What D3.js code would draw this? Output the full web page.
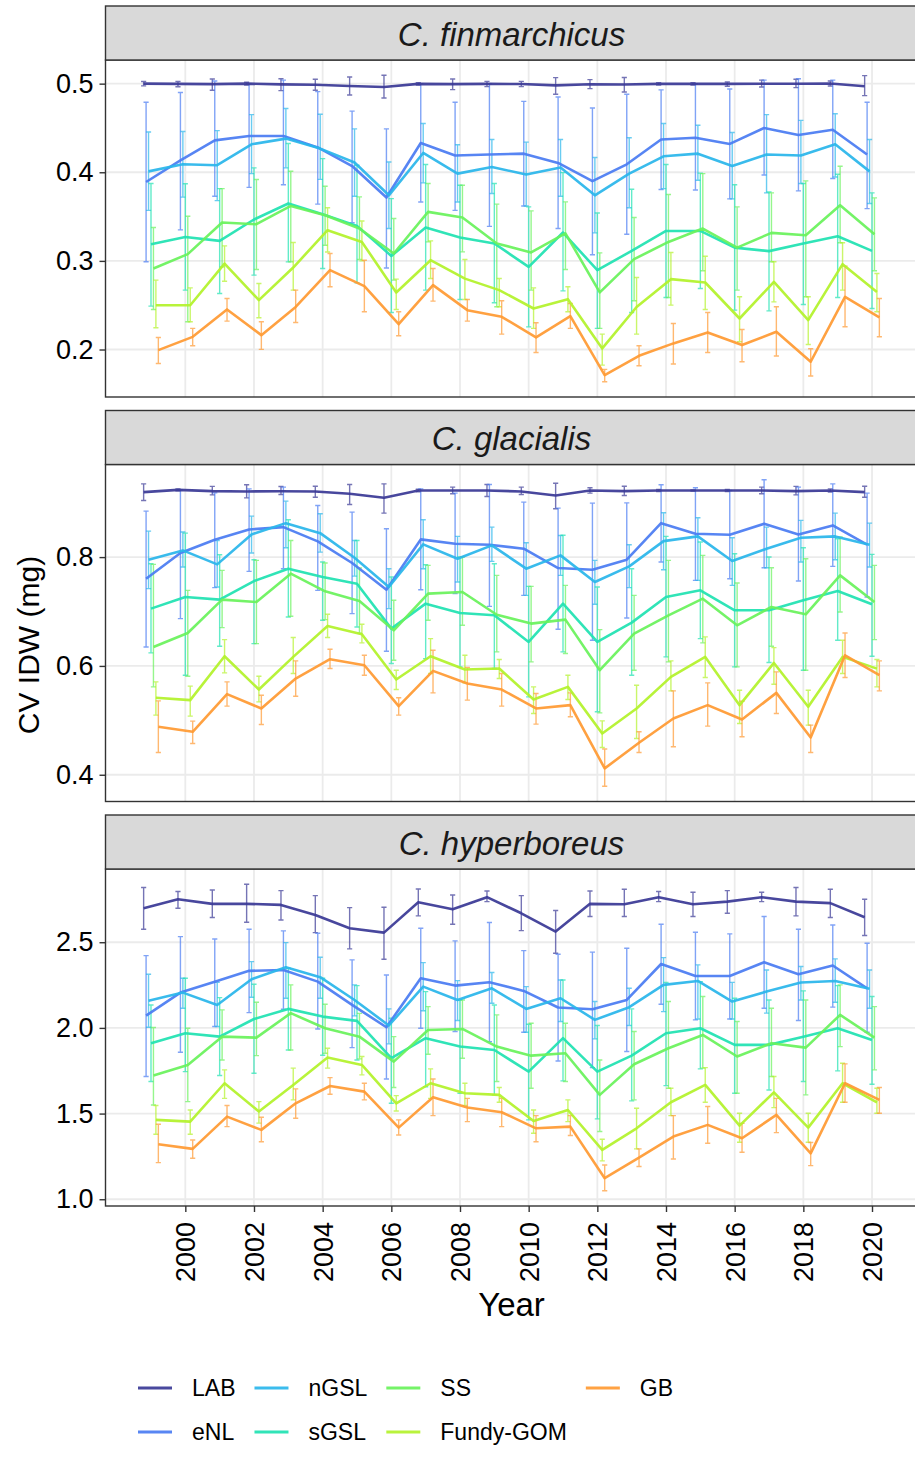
<!DOCTYPE html>
<html>
<head>
<meta charset="utf-8">
<script src="https://cdn.jsdelivr.net/npm/d3@7"></script>
<style>
  body { margin: 0; background: #ffffff; }
  svg { display: block; }
  text { font-family: "Liberation Sans", Arial, Helvetica, sans-serif; }
</style>
</head>
<body>
<svg id="chart" width="915" height="1458"></svg>
<script>
// ---- data -------------------------------------------------------------
const years = [1999, 2000, 2001, 2002, 2003, 2004, 2005, 2006, 2007, 2008, 2009,
               2010, 2011, 2012, 2013, 2014, 2015, 2016, 2017, 2018, 2019, 2020];
const regions = ["LAB", "eNL", "nGSL", "sGSL", "SS", "Fundy-GOM", "GB"];
const regionColors = ["#3a3996", "#4a7cf2", "#2ab6eb", "#20e2b2", "#69f25b", "#b3f22b", "#ff9a33"];
const speciesNames = ["C. finmarchicus", "C. glacialis", "C. hyperboreus"];
const yearTicks = [2000, 2002, 2004, 2006, 2008, 2010, 2012, 2014, 2016, 2018, 2020];
const finTicks = [0.2, 0.3, 0.4, 0.5];
const glaTicks = [0.4, 0.6, 0.8];
const hypTicks = [1.0, 1.5, 2.0, 2.5];

// C. finmarchicus: mean CV of IDW per region (rows follow `regions`)
const finMean = [
  [0.500,0.4997,0.4995,0.500,0.4992,0.4988,0.4974,0.4962,0.4997,0.4995,0.4997,0.4996,0.498,0.4994,0.499,0.4998,0.4998,0.4998,0.4999,0.4999,0.5002,0.497],
  [0.389,0.4135,0.436,0.441,0.441,0.428,0.407,0.3715,0.433,0.419,0.420,0.421,0.4105,0.390,0.409,0.437,0.439,0.432,0.450,0.442,0.448,0.420],
  [0.401,0.409,0.408,0.4316,0.438,0.4267,0.411,0.374,0.4218,0.3985,0.406,0.3974,0.4053,0.374,0.3985,0.418,0.421,0.407,0.420,0.419,0.4316,0.401],
  [0.3188,0.327,0.3226,0.3467,0.3647,0.3526,0.3395,0.3056,0.3376,0.3264,0.3196,0.2932,0.332,0.2895,0.3113,0.3338,0.3338,0.315,0.311,0.3196,0.3278,0.3113],
  [0.2914,0.3076,0.3433,0.3414,0.362,0.3515,0.3365,0.3083,0.3553,0.349,0.3196,0.3095,0.331,0.2644,0.302,0.3214,0.3365,0.315,0.3316,0.329,0.3628,0.330],
  [0.250,0.250,0.297,0.2557,0.2925,0.3346,0.3214,0.2644,0.3008,0.280,0.267,0.2463,0.2568,0.2012,0.248,0.2794,0.2756,0.235,0.2763,0.2332,0.2963,0.265],
  [0.1993,0.2143,0.2452,0.2162,0.2481,0.2895,0.2715,0.2286,0.2726,0.2444,0.2369,0.2136,0.2377,0.1711,0.1929,0.2069,0.2193,0.205,0.220,0.1862,0.2594,0.2362]
];
const finLow = [
  [0.4975,0.4965,0.4925,0.4985,0.4921,0.4925,0.4872,0.4838,0.4985,0.4932,0.4966,0.4966,0.488,0.4944,0.4905,0.4985,0.4985,0.497,0.4962,0.4955,0.4974,0.4865],
  [0.299,0.335,0.373,0.383,0.386,0.364,0.343,0.292,0.3665,0.357,0.339,0.362,0.3365,0.307,0.330,0.3805,0.380,0.370,0.397,0.379,0.393,0.359],
  [0.357,0.372,0.368,0.3985,0.405,0.392,0.373,0.3365,0.388,0.3665,0.376,0.362,0.373,0.3316,0.360,0.3816,0.391,0.370,0.3767,0.3873,0.3947,0.3647],
  [0.249,0.267,0.2632,0.2839,0.2989,0.2914,0.2752,0.2418,0.267,0.2565,0.2527,0.2256,0.2662,0.2238,0.2418,0.2587,0.2689,0.2444,0.2436,0.2508,0.2587,0.2463],
  [0.2452,0.2313,0.2933,0.2903,0.299,0.3177,0.3016,0.2783,0.3215,0.3102,0.2482,0.267,0.2903,0.2238,0.2550,0.2587,0.2888,0.267,0.299,0.2595,0.3204,0.2888],
  [0.2245,0.2313,0.2771,0.2358,0.267,0.3100,0.3000,0.2452,0.2802,0.2565,0.2482,0.2238,0.2426,0.1824,0.2174,0.2501,0.2452,0.2087,0.2538,0.2057,0.267,0.2426],
  [0.1843,0.2042,0.232,0.2001,0.2305,0.2708,0.2426,0.2155,0.2546,0.232,0.2174,0.1967,0.2238,0.1637,0.1817,0.1836,0.1967,0.1862,0.1926,0.1701,0.2257,0.2144]
];
const finHigh = [
  [0.5025,0.5025,0.5053,0.5015,0.5056,0.5049,0.5075,0.5094,0.5012,0.5053,0.5026,0.5026,0.5068,0.5045,0.507,0.5012,0.5012,0.5019,0.504,0.505,0.503,0.509],
  [0.479,0.490,0.503,0.500,0.504,0.491,0.469,0.449,0.500,0.479,0.500,0.480,0.485,0.4725,0.488,0.493,0.500,0.494,0.504,0.5056,0.504,0.479],
  [0.4455,0.446,0.447,0.465,0.472,0.4654,0.449,0.4116,0.455,0.431,0.437,0.434,0.4369,0.4166,0.439,0.455,0.453,0.4448,0.465,0.4586,0.466,0.437],
  [0.3873,0.387,0.3816,0.405,0.4324,0.4154,0.408,0.3703,0.4087,0.3853,0.3873,0.361,0.3996,0.354,0.3808,0.4087,0.399,0.386,0.3778,0.3873,0.3977,0.3767],
  [0.3376,0.3504,0.3816,0.3918,0.4012,0.3842,0.3722,0.3478,0.3873,0.3854,0.364,0.3564,0.3666,0.3091,0.3490,0.3749,0.3985,0.361,0.3767,0.3903,0.4068,0.3711],
  [0.2783,0.2696,0.317,0.2745,0.3207,0.3600,0.3450,0.2794,0.3226,0.3016,0.2802,0.2696,0.2708,0.2174,0.2813,0.3095,0.3053,0.2595,0.299,0.2595,0.3204,0.2858],
  [0.2136,0.2238,0.2576,0.2313,0.267,0.3083,0.3008,0.2426,0.2914,0.2565,0.255,0.2302,0.252,0.1776,0.2042,0.2294,0.2418,0.2226,0.2482,0.2009,0.2941,0.2576]
];

// C. glacialis
const glaMean = [
  [0.9193,0.9236,0.9212,0.9206,0.921,0.9206,0.9163,0.9089,0.9224,0.9224,0.9224,0.9206,0.9132,0.9224,0.9212,0.9224,0.9224,0.9224,0.9224,0.9212,0.9224,0.9193],
  [0.7603,0.8074,0.8319,0.8508,0.8551,0.8288,0.7891,0.7401,0.8325,0.8245,0.8227,0.8154,0.7799,0.7768,0.7952,0.8624,0.8429,0.841,0.8612,0.8416,0.8582,0.8227],
  [0.7952,0.8123,0.7866,0.8416,0.8624,0.844,0.7988,0.745,0.8233,0.797,0.8215,0.7787,0.8031,0.7542,0.7829,0.8294,0.838,0.7927,0.8154,0.8355,0.838,0.8227],
  [0.7053,0.7267,0.7218,0.756,0.7787,0.7634,0.7511,0.6686,0.7144,0.6973,0.693,0.644,0.7144,0.644,0.6796,0.7267,0.7389,0.7022,0.7022,0.7206,0.7377,0.7132],
  [0.6349,0.6606,0.7218,0.7175,0.7695,0.737,0.7193,0.6655,0.7328,0.7358,0.694,0.6778,0.6851,0.5921,0.6594,0.693,0.7236,0.6747,0.7083,0.6949,0.7664,0.7175],
  [0.5414,0.5371,0.6178,0.5566,0.6166,0.6735,0.6582,0.575,0.6178,0.5933,0.5952,0.5383,0.5615,0.4759,0.5218,0.5799,0.6166,0.5279,0.6055,0.5249,0.6166,0.595],
  [0.4881,0.479,0.5481,0.5218,0.5768,0.6123,0.6013,0.5261,0.5909,0.5676,0.5566,0.5218,0.5279,0.4117,0.4588,0.5034,0.5279,0.5016,0.5505,0.4686,0.6196,0.5829]
];
const glaLow = [
  [0.904,0.9218,0.9144,0.9089,0.915,0.9101,0.8967,0.8808,0.9200,0.9163,0.9114,0.915,0.8887,0.9175,0.9132,0.9206,0.9212,0.9206,0.9163,0.9144,0.9193,0.9101],
  [0.6349,0.6869,0.7438,0.7738,0.7787,0.7389,0.6961,0.627,0.7401,0.7328,0.7095,0.7297,0.6674,0.6472,0.6881,0.7909,0.7573,0.7603,0.7805,0.756,0.783,0.7267],
  [0.742,0.7817,0.745,0.8074,0.8172,0.8092,0.765,0.7053,0.7787,0.7542,0.7921,0.7297,0.7664,0.7132,0.7438,0.7768,0.7573,0.7481,0.7805,0.7909,0.7952,0.7817],
  [0.6239,0.5829,0.6361,0.641,0.69,0.6839,0.6716,0.6044,0.6135,0.5982,0.5952,0.5432,0.6258,0.5157,0.5829,0.6166,0.6502,0.5982,0.6062,0.5921,0.6472,0.6178],
  [0.5615,0.5811,0.6704,0.641,0.6914,0.6851,0.66,0.6105,0.6839,0.6747,0.6258,0.6074,0.6227,0.5138,0.5921,0.6074,0.6423,0.5982,0.6361,0.5921,0.6992,0.6484],
  [0.5096,0.5077,0.5872,0.534,0.586,0.6521,0.6423,0.5566,0.586,0.5689,0.5768,0.5126,0.5383,0.4502,0.4667,0.5542,0.5786,0.4942,0.5664,0.4912,0.586,0.5615],
  [0.441,0.4575,0.5261,0.4924,0.5444,0.5952,0.5829,0.5096,0.5505,0.5371,0.5261,0.493,0.5065,0.379,0.441,0.4514,0.4894,0.4698,0.5126,0.441,0.5786,0.5542]
];
const glaHigh = [
  [0.9346,0.9254,0.930,0.933,0.9297,0.9303,0.9334,0.9346,0.9248,0.9285,0.9334,0.9285,0.9358,0.9273,0.9303,0.9242,0.9236,0.9242,0.9285,0.930,0.9254,0.9303],
  [0.8845,0.9236,0.918,0.9254,0.9285,0.8949,0.8826,0.852,0.9254,0.9175,0.9334,0.901,0.89,0.8991,0.8997,0.9328,0.9273,0.9224,0.942,0.9285,0.9346,0.9175],
  [0.8478,0.846,0.8306,0.8753,0.9028,0.8796,0.8306,0.7787,0.8686,0.838,0.8551,0.8264,0.8398,0.794,0.8227,0.8814,0.8722,0.8355,0.8551,0.8674,0.8808,0.8624],
  [0.7878,0.844,0.8043,0.7952,0.8686,0.7909,0.8306,0.7634,0.786,0.8001,0.7878,0.7462,0.84,0.745,0.7787,0.838,0.8276,0.8062,0.8001,0.8172,0.8337,0.805],
  [0.7866,0.7389,0.7756,0.794,0.8306,0.7891,0.78,0.7206,0.7848,0.8001,0.7664,0.7462,0.748,0.6667,0.7297,0.794,0.8031,0.7524,0.7805,0.797,0.8368,0.7848],
  [0.5707,0.5628,0.6484,0.5811,0.6521,0.6949,0.6765,0.5921,0.6502,0.6196,0.6117,0.5615,0.5829,0.4991,0.5646,0.6092,0.6533,0.5554,0.6337,0.5554,0.6472,0.6117],
  [0.5358,0.4985,0.5707,0.5462,0.6092,0.6307,0.6196,0.5414,0.6288,0.597,0.586,0.5493,0.5505,0.4472,0.4789,0.5542,0.5689,0.5352,0.5891,0.4912,0.6606,0.6092]
];

// C. hyperboreus
const hypMean = [
  [2.698,2.751,2.724,2.724,2.718,2.659,2.582,2.556,2.733,2.692,2.763,2.669,2.562,2.724,2.722,2.763,2.722,2.737,2.763,2.737,2.728,2.646],
  [2.072,2.206,2.270,2.333,2.338,2.270,2.134,2.004,2.290,2.247,2.266,2.216,2.119,2.109,2.163,2.373,2.303,2.303,2.383,2.313,2.364,2.231],
  [2.159,2.206,2.134,2.284,2.354,2.296,2.163,2.014,2.241,2.163,2.231,2.111,2.173,2.047,2.121,2.251,2.274,2.154,2.212,2.265,2.274,2.228],
  [1.910,1.969,1.949,2.052,2.111,2.066,2.041,1.823,1.940,1.891,1.871,1.745,1.940,1.745,1.838,1.969,1.998,1.901,1.901,1.949,1.998,1.930],
  [1.722,1.784,1.949,1.943,2.086,1.998,1.949,1.803,1.988,1.994,1.891,1.838,1.852,1.609,1.788,1.881,1.959,1.833,1.910,1.885,2.076,1.943],
  [1.463,1.453,1.677,1.512,1.667,1.827,1.784,1.560,1.677,1.619,1.609,1.457,1.521,1.288,1.414,1.566,1.667,1.430,1.624,1.418,1.677,1.566],
  [1.321,1.294,1.482,1.405,1.560,1.661,1.628,1.418,1.595,1.535,1.508,1.414,1.424,1.123,1.243,1.366,1.434,1.356,1.492,1.268,1.677,1.580]
];
const hypLow = [
  [2.576,2.698,2.644,2.617,2.630,2.556,2.461,2.401,2.654,2.605,2.737,2.568,2.436,2.650,2.650,2.737,2.650,2.669,2.737,2.654,2.644,2.539],
  [1.716,1.858,2.008,2.089,2.109,1.994,1.885,1.702,1.998,1.979,1.920,1.975,1.807,1.768,1.862,2.138,2.047,2.052,2.115,2.043,2.121,1.975],
  [2.004,2.115,2.008,2.179,2.173,2.173,2.070,1.907,2.100,2.043,2.144,1.975,2.037,1.936,2.014,2.095,2.052,2.052,2.086,2.163,2.150,2.115],
  [1.687,1.745,1.722,1.735,1.871,1.840,1.813,1.560,1.657,1.619,1.609,1.463,1.691,1.469,1.574,1.663,1.761,1.619,1.638,1.687,1.749,1.671],
  [1.550,1.570,1.813,1.838,1.871,1.852,1.819,1.652,1.846,1.823,1.687,1.648,1.687,1.395,1.580,1.648,1.765,1.619,1.716,1.609,1.891,1.755],
  [1.379,1.379,1.589,1.444,1.580,1.765,1.726,1.515,1.589,1.547,1.566,1.385,1.453,1.224,1.294,1.488,1.566,1.333,1.535,1.333,1.566,1.502],
  [1.214,1.239,1.424,1.336,1.473,1.613,1.580,1.375,1.488,1.453,1.424,1.336,1.372,1.050,1.191,1.235,1.327,1.274,1.389,1.196,1.566,1.502]
];
const hypHigh = [
  [2.819,2.796,2.805,2.838,2.801,2.772,2.702,2.704,2.811,2.776,2.799,2.772,2.685,2.799,2.809,2.796,2.792,2.801,2.792,2.819,2.809,2.751],
  [2.422,2.533,2.519,2.576,2.566,2.552,2.397,2.309,2.582,2.508,2.615,2.451,2.430,2.442,2.465,2.605,2.558,2.549,2.650,2.576,2.601,2.494],
  [2.313,2.290,2.266,2.387,2.498,2.412,2.251,2.111,2.381,2.276,2.323,2.241,2.280,2.154,2.231,2.410,2.368,2.266,2.338,2.358,2.403,2.338],
  [2.134,2.290,2.177,2.255,2.348,2.290,2.247,2.056,2.212,2.163,2.134,2.021,2.280,2.014,2.111,2.266,2.270,2.173,2.163,2.216,2.247,2.183],
  [2.002,1.998,2.105,2.150,2.251,2.138,2.085,1.949,2.124,2.163,2.076,2.027,2.027,1.813,1.979,2.154,2.183,2.037,2.115,2.163,2.251,2.124],
  [1.547,1.521,1.755,1.570,1.765,1.881,1.833,1.605,1.761,1.677,1.652,1.521,1.580,1.350,1.531,1.648,1.768,1.502,1.716,1.502,1.794,1.648],
  [1.438,1.346,1.547,1.479,1.644,1.710,1.677,1.463,1.702,1.589,1.589,1.488,1.488,1.200,1.294,1.488,1.541,1.443,1.589,1.331,1.790,1.652]
];

// ---- layout -------------------------------------------------------------
const svg = d3.select("#chart");
const panelLeft = 105.5, panelRight = 917.5;
const stripTop0 = 6, stripH = 54, panelH = 337, facetPitch = 404.5;
const dodgeWidth = 0.5, capWidth = 0.15;
const ink = "#333333";

const facets = [
  { name: speciesNames[0], mean: finMean, low: finLow, high: finHigh, ticks: finTicks, fmt: d3.format(".1f") },
  { name: speciesNames[1], mean: glaMean, low: glaLow, high: glaHigh, ticks: glaTicks, fmt: d3.format(".1f") },
  { name: speciesNames[2], mean: hypMean, low: hypLow, high: hypHigh, ticks: hypTicks, fmt: d3.format(".1f") }
];

// shared x scale: year range widened by the dodge, then padded 5% like ggplot
const dodgeHalf = dodgeWidth / 2;
const xMin = d3.min(years) - dodgeHalf, xMax = d3.max(years) + dodgeHalf;
const xPad = (xMax - xMin) * 0.05;
const x = d3.scaleLinear().domain([xMin - xPad, xMax + xPad]).range([panelLeft, panelRight]);
const dodge = i => (i - (regions.length - 1) / 2) * (dodgeWidth / regions.length);

facets.forEach((f, fi) => {
  const stripTop = stripTop0 + fi * facetPitch;
  const top = stripTop + stripH;
  const bottom = top + panelH;

  const lo = d3.min(f.low.flat()), hi = d3.max(f.high.flat());
  const pad = (hi - lo) * 0.05;
  const y = d3.scaleLinear().domain([lo - pad, hi + pad]).range([bottom, top]);

  const g = svg.append("g").attr("class", "facet");

  // panel background and major grid
  g.append("rect").attr("x", panelLeft).attr("y", top)
    .attr("width", panelRight - panelLeft).attr("height", panelH).attr("fill", "#ffffff");
  g.append("g").selectAll("line").data(yearTicks).join("line")
    .attr("x1", d => x(d)).attr("x2", d => x(d)).attr("y1", top).attr("y2", bottom)
    .attr("stroke", "#ebebeb").attr("stroke-width", 1.8);
  g.append("g").selectAll("line").data(f.ticks).join("line")
    .attr("x1", panelLeft).attr("x2", panelRight).attr("y1", d => y(d)).attr("y2", d => y(d))
    .attr("stroke", "#ebebeb").attr("stroke-width", 1.8);

  // error bars
  regions.forEach((r, ri) => {
    const pts = years.map((yr, k) => ({ xv: yr + dodge(ri), lo: f.low[ri][k], hi: f.high[ri][k] }));
    const eb = g.append("g").attr("stroke", regionColors[ri]).attr("stroke-opacity", 0.7)
      .attr("stroke-width", 1.4).attr("fill", "none");
    eb.selectAll("path").data(pts).join("path")
      .attr("d", d => {
        const cx = x(d.xv), x0 = x(d.xv - capWidth / 2), x1 = x(d.xv + capWidth / 2);
        return `M${x0},${y(d.hi)}H${x1}M${cx},${y(d.hi)}V${y(d.lo)}M${x0},${y(d.lo)}H${x1}`;
      });
  });

  // mean lines
  const line = d3.line().x(d => x(d[0])).y(d => y(d[1]));
  regions.forEach((r, ri) => {
    const pts = years.map((yr, k) => [yr + dodge(ri), f.mean[ri][k]]);
    g.append("path").datum(pts).attr("d", line)
      .attr("fill", "none").attr("stroke", regionColors[ri]).attr("stroke-opacity", 0.93)
      .attr("stroke-width", 2.6).attr("stroke-linejoin", "round");
  });

  // panel border
  g.append("rect").attr("x", panelLeft).attr("y", top)
    .attr("width", panelRight - panelLeft).attr("height", panelH)
    .attr("fill", "none").attr("stroke", ink).attr("stroke-width", 1.4);

  // strip
  g.append("rect").attr("x", panelLeft).attr("y", stripTop)
    .attr("width", panelRight - panelLeft).attr("height", stripH)
    .attr("fill", "#d9d9d9").attr("stroke", ink).attr("stroke-width", 1.4);
  g.append("text").attr("x", (panelLeft + panelRight) / 2).attr("y", stripTop + stripH / 2 + 1)
    .attr("text-anchor", "middle").attr("dominant-baseline", "central")
    .attr("font-size", 33).attr("font-style", "italic").attr("fill", "#1a1a1a")
    .text(f.name);

  // y axis
  const yAxis = d3.axisLeft(y).tickValues(f.ticks).tickFormat(f.fmt).tickSize(6).tickPadding(6);
  const ya = g.append("g").attr("transform", `translate(${panelLeft},0)`).call(yAxis);
  ya.select(".domain").remove();
  ya.selectAll(".tick line").attr("stroke", ink).attr("stroke-width", 1.4);
  ya.selectAll(".tick text").attr("font-size", 27).attr("fill", "#000000")
    .attr("font-family", "Liberation Sans, Arial, sans-serif");

  // x axis under the last facet only
  if (fi === facets.length - 1) {
    const xAxis = d3.axisBottom(x).tickValues(yearTicks).tickFormat(d3.format("d")).tickSize(6);
    const xa = g.append("g").attr("transform", `translate(0,${bottom})`).call(xAxis);
    xa.select(".domain").remove();
    xa.selectAll(".tick line").attr("stroke", ink).attr("stroke-width", 1.4);
    xa.selectAll(".tick text")
      .attr("font-size", 27).attr("fill", "#000000")
      .attr("font-family", "Liberation Sans, Arial, sans-serif")
      .attr("transform", "rotate(-90)")
      .attr("text-anchor", "end")
      .attr("x", -16).attr("y", 0).attr("dy", "0.35em");
  }
});

// axis titles
svg.append("text").attr("x", (panelLeft + panelRight) / 2).attr("y", 1316)
  .attr("text-anchor", "middle").attr("font-size", 33).attr("fill", "#000000").text("Year");
const panelsMid = (stripTop0 + stripH + 2 * facetPitch + panelH + stripTop0 + stripH) / 2;
svg.append("text")
  .attr("transform", `translate(28,${panelsMid + 12}) rotate(-90)`)
  .attr("text-anchor", "middle").attr("dominant-baseline", "central")
  .attr("font-size", 30).attr("fill", "#000000").text("CV IDW (mg)");

// legend: 2 rows, filled column by column
const legend = svg.append("g").attr("class", "legend");
const rowY = [1388, 1432];
const keyLen = 34, keyGap = 20, colGap = 19;
let colX = 138;
for (let c = 0; c < Math.ceil(regions.length / 2); c++) {
  let maxW = 0;
  for (let rI = 0; rI < 2; rI++) {
    const i = c * 2 + rI;
    if (i >= regions.length) break;
    legend.append("line").attr("x1", colX).attr("x2", colX + keyLen)
      .attr("y1", rowY[rI]).attr("y2", rowY[rI])
      .attr("stroke", regionColors[i]).attr("stroke-width", 2.8).attr("stroke-opacity", 0.92);
    const t = legend.append("text").attr("x", colX + keyLen + keyGap).attr("y", rowY[rI])
      .attr("dominant-baseline", "central").attr("font-size", 23).attr("fill", "#000000")
      .text(regions[i]);
    maxW = Math.max(maxW, t.node().getComputedTextLength());
  }
  colX += keyLen + keyGap + maxW + colGap;
}
</script>
</body>
</html>
